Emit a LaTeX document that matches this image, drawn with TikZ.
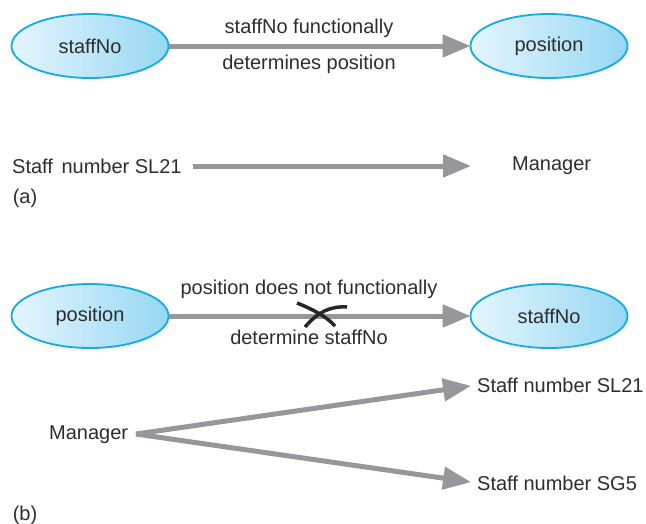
\documentclass[tikz,border=0pt]{standalone}
\usepackage{fontspec}
\setmainfont{Liberation Sans}
\usetikzlibrary{shapes.geometric,arrows.meta}
\definecolor{txt}{RGB}{45,45,45}
\definecolor{arrgray}{RGB}{150,150,155}
\definecolor{elldraw}{RGB}{20,170,228}
\definecolor{ellleft}{RGB}{228,245,253}
\definecolor{ellright}{RGB}{150,215,243}
\tikzset{
  lbl/.style={text=txt, font=\fontsize{20}{24}\selectfont, inner sep=0pt},
  ell/.style={ellipse, draw=elldraw, line width=1.8pt, left color=ellleft, right color=ellright,
    minimum width=157pt, minimum height=64pt, inner sep=0pt, text=txt, font=\fontsize{20}{24}\selectfont},
  arr/.style={draw=arrgray, line width=5pt, -{Triangle[length=28pt,width=22pt]}, shorten >=-1pt},
  crossline/.style={draw=black!85, line width=3.5pt}
}
\begin{document}
\begin{tikzpicture}[x=1pt,y=-1pt]
\useasboundingbox (0,0) rectangle (646,523);
% (a)
\node[ell] (e1) at (90,46) {staffNo};
\node[ell] (e2) at (549,46) {position};
\draw[arr] (e1) -- (e2);
\node[lbl] (l1) at (309,28) {staffNo functionally};
\node[lbl] (l2) at (309,64) {determines position};
\node[lbl, anchor=west] (s1) at (12,166) {Staff\hspace{3pt} number SL21};
\node[lbl, anchor=west] (m1) at (512,166) {Manager};
\coordinate (a1s) at (193,166);
\coordinate (a1e) at (470,166);
\draw[arr] (a1s) -- (a1e);
\node[lbl] (pa) at (25,198) {(a)};
% (b)
\node[ell] (e3) at (90,316) {position};
\node[ell] (e4) at (549,316) {staffNo};
\draw[arr] (e3) -- (e4);
\node[lbl] (l3) at (309,289) {position does not functionally};
\node[lbl] (l4) at (309,337) {determine staffNo};
\draw[crossline] (297,303) .. controls (312,309) and (326,316) .. (335,326);
\draw[crossline] (347,307) .. controls (330,306) and (318,312) .. (305,327);
\node[lbl, anchor=west] (m2) at (49,435) {Manager};
\node[lbl, anchor=west] (t1) at (477,385) {Staff number SL21};
\node[lbl, anchor=west] (t2) at (477,483) {Staff number SG5};
\coordinate (ms) at (136,434);
\draw[arr, shorten >=6pt] (ms) -- (t1.west);
\draw[arr, shorten >=6pt] (ms) -- (t2.west);
\node[lbl] (pb) at (25,515) {(b)};
\end{tikzpicture}
\end{document}
